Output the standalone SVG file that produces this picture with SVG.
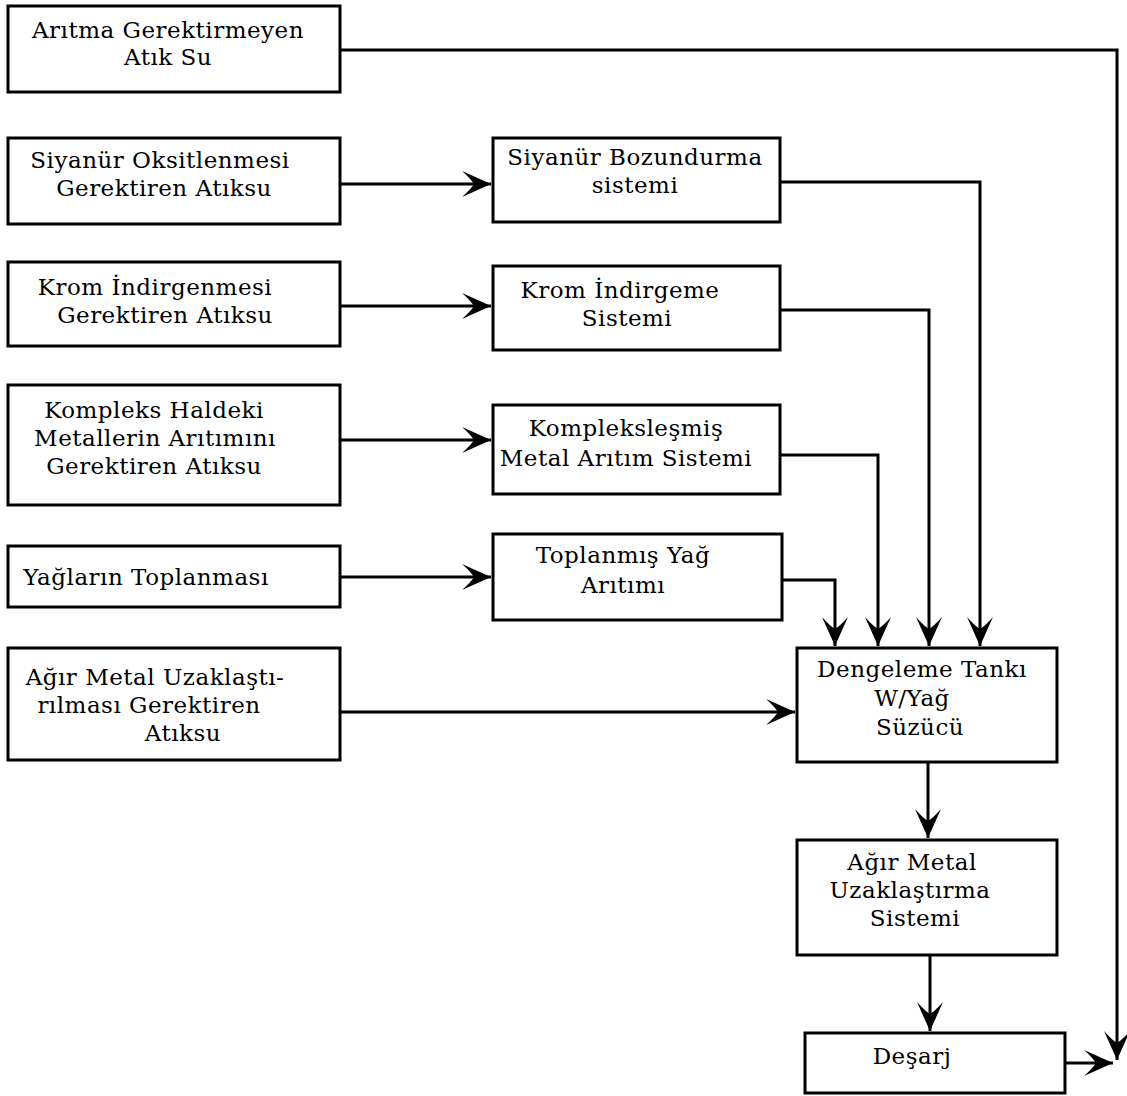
<svg xmlns="http://www.w3.org/2000/svg" width="1127" height="1096" viewBox="0 0 1127 1096">
<style>
.box{fill:#fff;stroke:#000;stroke-width:3}
.t{font-family:"DejaVu Serif","Liberation Serif",serif;font-size:23px;letter-spacing:0.5px;fill:#000;text-anchor:middle}
.c{fill:none;stroke:#000;stroke-width:3}
</style>
<defs>
<marker id="ah" viewBox="-30 -14 32 28" refX="0" refY="0" markerWidth="32" markerHeight="28" markerUnits="userSpaceOnUse" orient="auto">
<path d="M0,0 L-29,-13 Q-20,-5 -17,0 Q-20,5 -29,13 Z" fill="#000"/>
</marker>
</defs>
<rect width="1127" height="1096" fill="#fff"/>
<g id="connectors">
<path class="c" d="M340,50 H1117 V1060" marker-end="url(#ah)"/>
<path class="c" d="M340,184 H491" marker-end="url(#ah)"/>
<path class="c" d="M780,182 H980 V646" marker-end="url(#ah)"/>
<path class="c" d="M340,306 H491" marker-end="url(#ah)"/>
<path class="c" d="M780,310 H929 V646" marker-end="url(#ah)"/>
<path class="c" d="M340,440 H491" marker-end="url(#ah)"/>
<path class="c" d="M780,455 H878 V646" marker-end="url(#ah)"/>
<path class="c" d="M340,577 H491" marker-end="url(#ah)"/>
<path class="c" d="M782,580 H835 V646" marker-end="url(#ah)"/>
<path class="c" d="M340,712 H795" marker-end="url(#ah)"/>
<path class="c" d="M928,762 V838" marker-end="url(#ah)"/>
<path class="c" d="M930,955 V1031" marker-end="url(#ah)"/>
<path class="c" d="M1065,1063 H1113" marker-end="url(#ah)"/>
</g>
<g id="n1"><rect class="box" x="8" y="6" width="332" height="86"/>
<text class="t" x="168" y="38">Arıtma Gerektirmeyen</text><text class="t" x="168" y="65">Atık Su</text></g>
<g id="n2"><rect class="box" x="8" y="138" width="332" height="86"/>
<text class="t" x="160" y="168">Siyanür Oksitlenmesi</text><text class="t" x="164" y="196">Gerektiren Atıksu</text></g>
<g id="n3"><rect class="box" x="8" y="262" width="332" height="84"/>
<text class="t" x="155" y="295">Krom İndirgenmesi</text><text class="t" x="165" y="323">Gerektiren Atıksu</text></g>
<g id="n4"><rect class="box" x="8" y="385" width="332" height="120"/>
<text class="t" x="154" y="418">Kompleks Haldeki</text><text class="t" x="155" y="446">Metallerin Arıtımını</text><text class="t" x="154" y="474">Gerektiren Atıksu</text></g>
<g id="n5"><rect class="box" x="8" y="546" width="332" height="61"/>
<text class="t" x="146" y="585">Yağların Toplanması</text></g>
<g id="n6"><rect class="box" x="8" y="648" width="332" height="112"/>
<text class="t" x="155" y="685">Ağır Metal Uzaklaştı-</text><text class="t" x="149" y="713">rılması Gerektiren</text><text class="t" x="183" y="741">Atıksu</text></g>
<g id="n7"><rect class="box" x="493" y="138" width="287" height="84"/>
<text class="t" x="635" y="165">Siyanür Bozundurma</text><text class="t" x="635" y="193">sistemi</text></g>
<g id="n8"><rect class="box" x="493" y="266" width="287" height="84"/>
<text class="t" x="620" y="298">Krom İndirgeme</text><text class="t" x="627" y="326">Sistemi</text></g>
<g id="n9"><rect class="box" x="493" y="405" width="287" height="89"/>
<text class="t" x="626" y="436">Kompleksleşmiş</text><text class="t" x="626" y="466">Metal Arıtım Sistemi</text></g>
<g id="n10"><rect class="box" x="493" y="534" width="289" height="86"/>
<text class="t" x="623" y="563">Toplanmış Yağ</text><text class="t" x="623" y="593">Arıtımı</text></g>
<g id="n11"><rect class="box" x="797" y="648" width="260" height="114"/>
<text class="t" x="922" y="677">Dengeleme Tankı</text><text class="t" x="912" y="706">W/Yağ</text><text class="t" x="920" y="735">Süzücü</text></g>
<g id="n12"><rect class="box" x="797" y="840" width="260" height="115"/>
<text class="t" x="912" y="870">Ağır Metal</text><text class="t" x="910" y="898">Uzaklaştırma</text><text class="t" x="915" y="926">Sistemi</text></g>
<g id="n13"><rect class="box" x="805" y="1033" width="260" height="60"/>
<text class="t" x="912" y="1064">Deşarj</text></g>
</svg>
